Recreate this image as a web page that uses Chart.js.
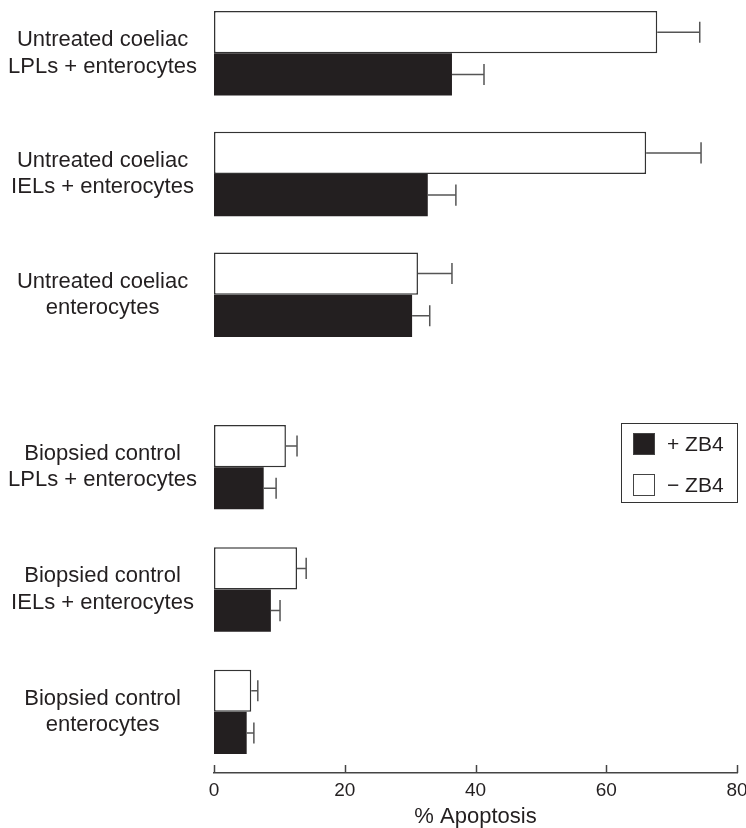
<!DOCTYPE html>
<html>
<head>
<meta charset="utf-8">
<script src="https://cdn.jsdelivr.net/npm/chart.js@4.4.1/dist/chart.umd.min.js"></script>
<style>
    html, body { margin: 0; padding: 0; background: #fff; overflow: hidden; }
    #wrap { position: relative; width: 746px; height: 828px; overflow: hidden; font-family: "Liberation Sans", Arial, Helvetica, sans-serif; color: #231f20; }
    #top { position: absolute; left: 0; top: -7px; }
    #bottom { position: absolute; left: 0; top: 380px; }
    .legend { position: absolute; left: 621px; top: 423px; width: 115px; height: 78px; border: 1px solid #333; }
    .legend .row { position: absolute; left: 11px; height: 22px; display: flex; align-items: center; font-size: 21px; }
    .legend .sw { width: 20px; height: 20px; border: 1px solid #444; margin-right: 12px; }
</style>
</head>
<body>
<div id="wrap">
    <canvas id="top" width="760" height="362"></canvas>
    <canvas id="bottom" width="760" height="448"></canvas>
    <div class="legend">
        <div class="row" style="top:9px"><span class="sw" style="background:#231f20"></span>+ ZB4</div>
        <div class="row" style="top:50px"><span class="sw" style="background:#fff"></span>&minus; ZB4</div>
    </div>
</div>
<script>
// Apoptosis of enterocytes with / without ZB4
const categories = [
    ['Untreated coeliac', 'LPLs + enterocytes'],
    ['Untreated coeliac', 'IELs + enterocytes'],
    ['Untreated coeliac', 'enterocytes'],
    ['Biopsied control', 'LPLs + enterocytes'],
    ['Biopsied control', 'IELs + enterocytes'],
    ['Biopsied control', 'enterocytes']
];
const minusZB4 = [67.8, 66.1, 31.2, 11.0, 12.7, 5.7];
const minusZB4Err = [6.5, 8.4, 5.2, 1.7, 1.4, 1.0];
const plusZB4 = [36.4, 32.7, 30.3, 7.6, 8.7, 5.0];
const plusZB4Err = [4.9, 4.3, 2.7, 1.9, 1.4, 1.1];
const xTicks = [0, 20, 40, 60, 80];

const FONT = '"Liberation Sans", Arial, Helvetica, sans-serif';
const INK = '#231f20';

// error bars: line from the bar end to value + err, with a cap
const errorBars = {
    id: 'errorBars',
    afterDatasetsDraw(chart) {
        const { ctx, scales: { x } } = chart;
        ctx.save();
        ctx.strokeStyle = '#555';
        ctx.lineWidth = 1.5;
        chart.data.datasets.forEach((ds, di) => {
            const meta = chart.getDatasetMeta(di);
            meta.data.forEach((bar, i) => {
                const x0 = x.getPixelForValue(ds.data[i]);
                const x1 = x.getPixelForValue(ds.data[i] + ds.errors[i]);
                const half = bar.height / 4;
                ctx.beginPath();
                ctx.moveTo(x0, bar.y);
                ctx.lineTo(x1, bar.y);
                ctx.moveTo(x1, bar.y - half);
                ctx.lineTo(x1, bar.y + half);
                ctx.stroke();
            });
        });
        ctx.restore();
    }
};

// x-axis tick marks point up into the plot
const upTicks = {
    id: 'upTicks',
    afterDraw(chart) {
        const x = chart.scales.x;
        if (!x.options.display) return;
        const { ctx, chartArea } = chart;
        ctx.save();
        ctx.strokeStyle = '#444';
        ctx.lineWidth = 1.5;
        x.ticks.forEach(t => {
            const px = Math.round(x.getPixelForValue(t.value)) + 0.5;
            ctx.beginPath();
            ctx.moveTo(px, chartArea.bottom);
            ctx.lineTo(px, chartArea.bottom - 8);
            ctx.stroke();
        });
        ctx.restore();
    }
};

function makePanel(canvas, from, to, showAxis, padTop, catPct) {
    return new Chart(canvas.getContext('2d'), {
        type: 'bar',
        data: {
            labels: categories.slice(from, to),
            datasets: [
                {
                    label: '\u2212 ZB4',
                    data: minusZB4.slice(from, to),
                    errors: minusZB4Err.slice(from, to),
                    backgroundColor: '#ffffff',
                    borderColor: '#333',
                    borderWidth: 1.5,
                    borderSkipped: false
                },
                {
                    label: '+ ZB4',
                    data: plusZB4.slice(from, to),
                    errors: plusZB4Err.slice(from, to),
                    backgroundColor: INK,
                    borderColor: INK,
                    borderWidth: 0
                }
            ]
        },
        options: {
            indexAxis: 'y',
            responsive: false,
            animation: false,
            layout: { padding: { top: padTop, right: 23, left: 0, bottom: 0 } },
            datasets: { bar: { categoryPercentage: catPct, barPercentage: 1 } },
            plugins: { legend: { display: false }, tooltip: { enabled: false } },
            scales: {
                x: {
                    display: showAxis,
                    min: 0,
                    max: 80,
                    afterBuildTicks: s => { s.ticks = xTicks.map(v => ({ value: v })); },
                    afterFit: s => {
                        s.height = showAxis ? 55 : 0;
                        s.paddingLeft = 0;
                        s.paddingRight = 0;
                    },
                    grid: { display: false, drawTicks: false },
                    border: { display: true, color: '#444', width: 1.5 },
                    ticks: { color: INK, padding: 6, font: { family: FONT, size: 19 } },
                    title: {
                        display: true,
                        text: '% Apoptosis',
                        color: INK,
                        padding: { top: 0, bottom: 0 },
                        font: { family: FONT, size: 22, lineHeight: 1 }
                    }
                },
                y: {
                    afterFit: s => {
                        s.width = 214;
                        s.paddingTop = 0;
                        s.paddingBottom = 0;
                    },
                    grid: { display: false, drawTicks: false },
                    border: { display: false },
                    ticks: {
                        color: INK,
                        padding: 17,
                        crossAlign: 'center',
                        font: { family: FONT, size: 22, lineHeight: 1.2 }
                    }
                }
            }
        },
        plugins: [errorBars, upTicks]
    });
}

makePanel(document.getElementById('top'), 0, 3, false, 0, 0.7);
makePanel(document.getElementById('bottom'), 3, 6, true, 26, 0.69);
</script>
</body>
</html>
